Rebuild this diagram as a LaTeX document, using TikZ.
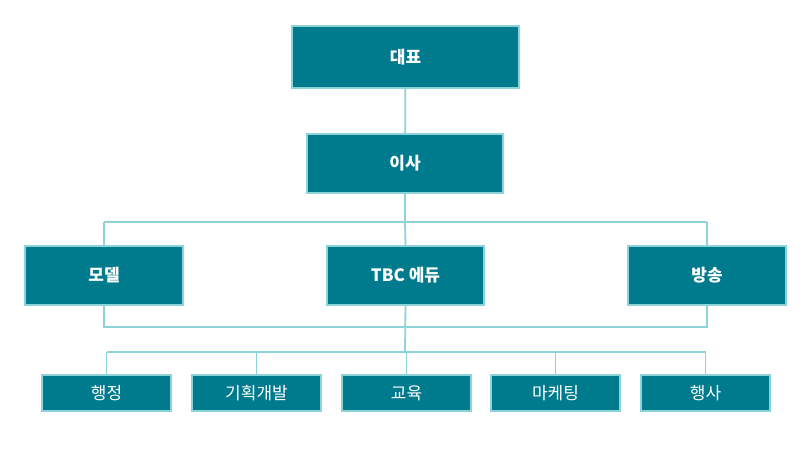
\documentclass[tikz,border=0pt]{standalone}
\usepackage{fontspec}
\newfontfamily\kr{Noto Sans CJK KR}
\begin{document}
\begin{tikzpicture}[x=1pt,y=-1pt]
\definecolor{tealf}{HTML}{007B8E}
\definecolor{edgec}{HTML}{8ED3D9}
\tikzset{
  box/.style={draw=edgec,line width=1.8pt,fill=tealf,text=white,inner sep=0pt},
  big/.style={box,font=\kr\bfseries\fontsize{17}{20}\selectfont},
  small/.style={box,font=\kr\fontsize{17}{20}\selectfont,minimum width=129pt,minimum height=36pt},
  conn/.style={draw=edgec,line width=1.8pt}
}
\useasboundingbox (0,0) rectangle (807,473);
\node[big,minimum width=227pt,minimum height=62pt] (ceo) at (405.5,57) {대표};
\node[big,minimum width=196pt,minimum height=59pt] (dir) at (405,163.5) {이사};
\node[big,minimum width=158pt,minimum height=59pt] (model) at (104,275.5) {모델};
\node[big,minimum width=157pt,minimum height=59pt] (edu) at (405.5,275.5) {TBC 에듀};
\node[big,minimum width=158pt,minimum height=59pt] (bc) at (707,275.5) {방송};
\node[small] (a1) at (106.5,393) {행정};
\node[small] (a2) at (256.5,393) {기획개발};
\node[small] (a3) at (406.5,393) {교육};
\node[small] (a4) at (555.5,393) {마케팅};
\node[small] (a5) at (705.5,393) {행사};
\coordinate (h1) at (405,222);
\coordinate (h2) at (405,327);
\coordinate (h3) at (405,352);
\draw[conn] (ceo) -- (dir);
\draw[conn] (dir) -- (h1);
\draw[conn] (model.north |- h1) -- (bc.north |- h1);
\draw[conn] (model.north |- h1) -- (model.north);
\draw[conn] (h1) -- (edu.north);
\draw[conn] (bc.north |- h1) -- (bc.north);
\draw[conn] (model.south) -- (model.south |- h2) -- (bc.south |- h2) -- (bc.south);
\draw[conn] (edu.south) -- (h3);
\draw[conn] (a1.north |- h3) -- (a5.north |- h3);
\foreach \n in {a1,a2,a3,a4,a5} \draw[conn] (\n.north |- h3) -- (\n.north);
\end{tikzpicture}
\end{document}
